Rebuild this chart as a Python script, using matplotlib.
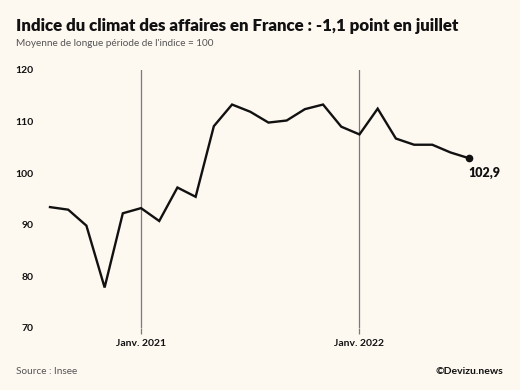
import matplotlib
matplotlib.use("Agg")
import matplotlib.pyplot as plt

months = ["2020-08", "2020-09", "2020-10", "2020-11", "2020-12",
          "2021-01", "2021-02", "2021-03", "2021-04", "2021-05", "2021-06", "2021-07",
          "2021-08", "2021-09", "2021-10", "2021-11", "2021-12",
          "2022-01", "2022-02", "2022-03", "2022-04", "2022-05", "2022-06", "2022-07"]
values = [93.4, 92.9, 89.8, 77.8, 92.2,
          93.2, 90.7, 97.2, 95.4, 109.1, 113.3, 111.9,
          109.8, 110.2, 112.4, 113.3, 109.0,
          107.5, 112.5, 106.7, 105.5, 105.5, 104.0, 102.9]
yticks = [70, 80, 90, 100, 110, 120]
xtick_months = ["2021-01", "2022-01"]
xtick_labels = ["Janv. 2021", "Janv. 2022"]
last_label = "102,9"

BG = "#fdf8f0"
FONT = ["Lato", "DejaVu Sans"]
plt.rcParams['font.family'] = FONT

W, H = 520, 390
fig = plt.figure(figsize=(W / 100, H / 100), dpi=100, facecolor=BG)

left_px, right_px = 50, 468.7
top_px, bot_px = 70, 327.7
ax = fig.add_axes([left_px / W, 1 - bot_px / H, (right_px - left_px) / W, (bot_px - top_px) / H])
ax.set_facecolor(BG)

x = list(range(len(months)))
ax.set_xlim(0, len(months) - 1)
ax.set_ylim(70, 120)

for m in xtick_months:
    xi = months.index(m)
    ax.axvline(xi, color="#7a7a7a", lw=0.9, zorder=1)

ax.plot(x, values, color="#111111", lw=1.7, solid_joinstyle="miter", zorder=3, clip_on=False)
ax.plot([x[-1]], [values[-1]], "o", color="#111111", ms=4.5, zorder=4, clip_on=False)
ax.annotate(last_label, (x[-1], values[-1]), xytext=(11, -11), textcoords="offset points",
            ha="center", va="center", fontsize=9, fontweight="heavy", color="#111111")

for s in ax.spines.values():
    s.set_visible(False)

ax.set_yticks(yticks)
ax.set_yticklabels([str(v) for v in yticks])
ax.tick_params(axis="y", length=0, pad=12, labelsize=7.5)
for lab in ax.get_yticklabels():
    lab.set_fontweight("bold")
    lab.set_color("#111111")

ax.set_xticks([months.index(m) for m in xtick_months])
ax.set_xticklabels(xtick_labels)
ax.tick_params(axis="x", length=4, width=0.9, color="#7a7a7a", pad=4, labelsize=7.5)
for lab in ax.get_xticklabels():
    lab.set_fontweight("bold")
    lab.set_color("#111111")

fig.text(16.5 / W, 1 - 26 / H, "Indice du climat des affaires en France : -1,1 point en juillet",
         fontsize=12.2, fontweight="heavy", color="#111111", ha="left", va="center")
fig.text(16.5 / W, 1 - 44 / H, "Moyenne de longue période de l'indice = 100",
         fontsize=7.2, color="#555555", ha="left", va="center")
fig.text(16.5 / W, 1 - 371 / H, "Source : Insee",
         fontsize=7.2, color="#555555", ha="left", va="center")
fig.text(503 / W, 1 - 371 / H, "©Devizu.news",
         fontsize=7.5, fontweight="bold", color="#111111", ha="right", va="center")

fig.savefig("out.png", dpi=100, facecolor=BG)
